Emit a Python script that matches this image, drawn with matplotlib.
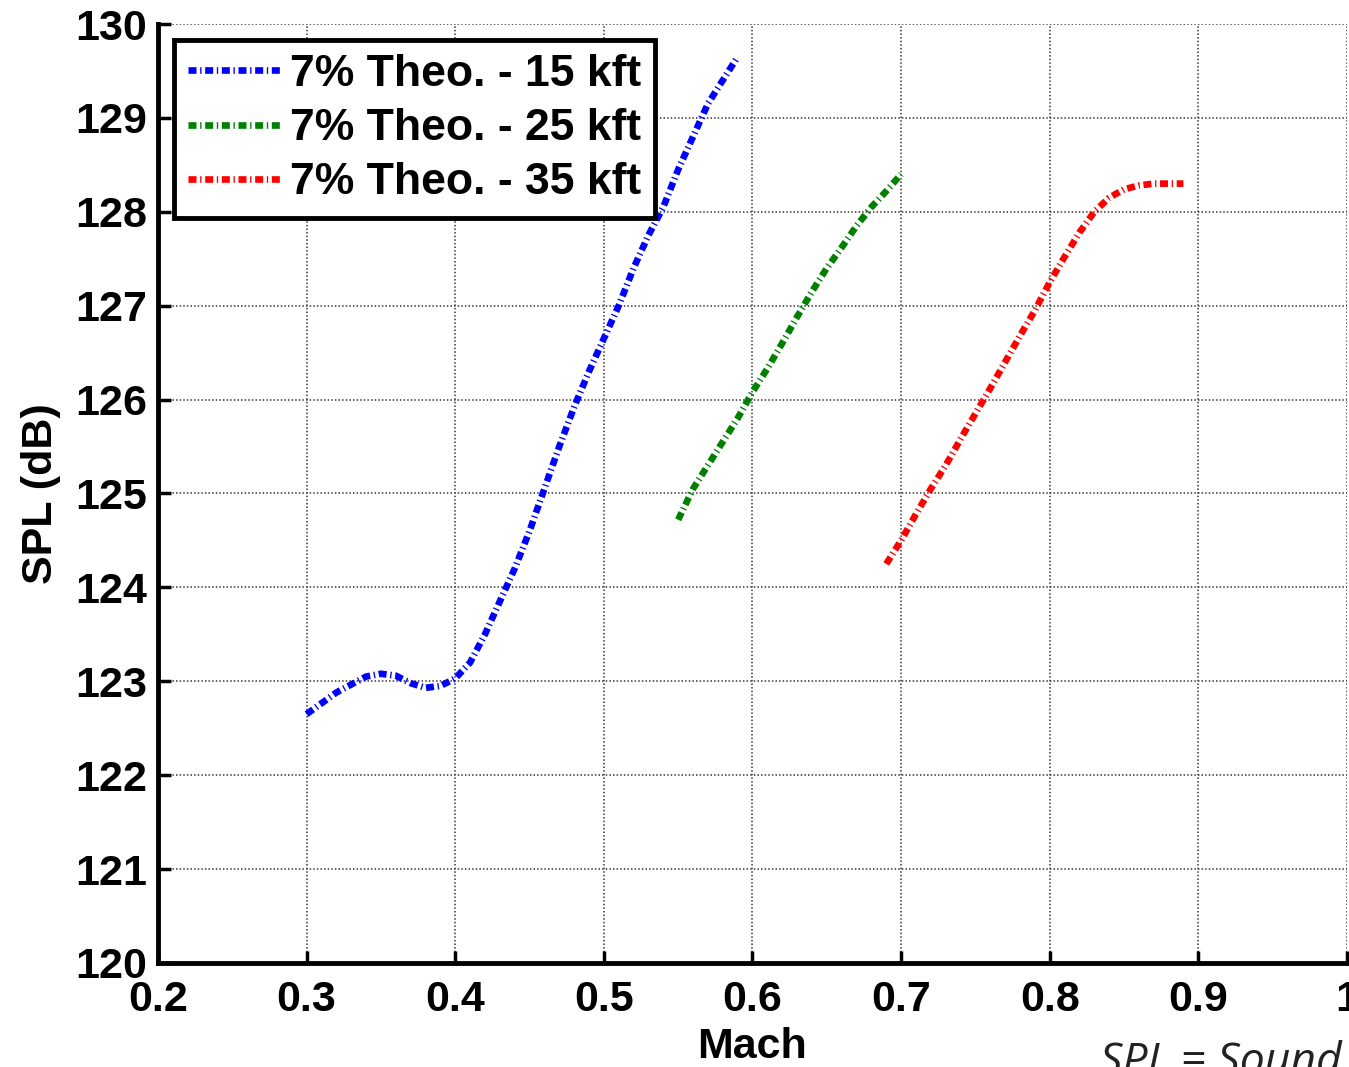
import matplotlib.pyplot as plt
from matplotlib.ticker import FuncFormatter

# Mach / SPL
mach_15 = [0.30, 0.32, 0.34, 0.35, 0.36, 0.37, 0.38, 0.39, 0.40, 0.41, 0.42, 0.43, 0.44, 0.45,
           0.46, 0.47, 0.48, 0.49, 0.50, 0.51, 0.52, 0.53, 0.54, 0.55, 0.56, 0.57, 0.58, 0.59]
spl_15 = [122.65, 122.88, 123.05, 123.08, 123.06, 122.98, 122.93, 122.95, 123.03, 123.2, 123.5,
          123.85, 124.2, 124.6, 125.05, 125.5, 125.92, 126.3, 126.65, 127.0, 127.4, 127.75,
          128.05, 128.45, 128.8, 129.15, 129.4, 129.65]

mach_25 = [0.55, 0.56, 0.57, 0.58, 0.59, 0.60, 0.61, 0.62, 0.63, 0.64, 0.65, 0.66, 0.67, 0.68, 0.69, 0.70]
spl_25 = [124.72, 125.05, 125.3, 125.55, 125.8, 126.08, 126.33, 126.6, 126.88, 127.15, 127.4,
          127.62, 127.85, 128.05, 128.22, 128.4]

mach_35 = [0.69, 0.70, 0.71, 0.72, 0.73, 0.74, 0.75, 0.76, 0.77, 0.78, 0.79, 0.80, 0.81, 0.82,
           0.83, 0.84, 0.85, 0.86, 0.87, 0.88, 0.89]
spl_35 = [124.25, 124.5, 124.78, 125.05, 125.3, 125.58, 125.85, 126.12, 126.4, 126.68, 126.95,
          127.25, 127.52, 127.78, 128.0, 128.15, 128.24, 128.28, 128.3, 128.3, 128.3]

labels = ['7% Theo. - 15 kft', '7% Theo. - 25 kft', '7% Theo. - 35 kft']
colors = ['#0000ff', '#008000', '#ff0000']

plt.rcParams['font.family'] = ['Liberation Sans', 'DejaVu Sans']
plt.rcParams['font.weight'] = 'bold'

fig = plt.figure(figsize=(13.49, 10.67), dpi=100)
ax = fig.add_axes([0.1171, 0.0975, 0.8814, 0.880])

dash = (0, (1.2, 0.55, 0.2, 0.55))
for xs, ys, c, lab in zip([mach_15, mach_25, mach_35], [spl_15, spl_25, spl_35], colors, labels):
    ax.plot(xs, ys, color=c, linewidth=4.8, linestyle=dash, label=lab, zorder=3)

ax.set_xlim(0.2, 1.0)
ax.set_ylim(120, 130)
ax.set_xticks([0.2, 0.3, 0.4, 0.5, 0.6, 0.7, 0.8, 0.9, 1.0])
ax.set_yticks(range(120, 131))
ax.xaxis.set_major_formatter(FuncFormatter(lambda v, p: '%g' % v))

ax.grid(True, color='0.3', linestyle=(0, (0.8, 1.2)), linewidth=1.3)
for s in ['top', 'right']:
    ax.spines[s].set_visible(False)
for s in ['left', 'bottom']:
    ax.spines[s].set_linewidth(3.5)
ax.tick_params(direction='in', length=9, width=2.5, labelsize=31, pad=8)
ax.tick_params(axis='x', pad=12)

ax.set_xlabel('Mach', fontsize=31, fontweight='bold', labelpad=5)
ax.set_ylabel('SPL (dB)', fontsize=31, fontweight='bold', labelpad=10)

leg = ax.legend(loc='upper left', fontsize=32, handlelength=2.1, handletextpad=0.2,
                labelspacing=0.3, borderpad=0.32, borderaxespad=0.35, fancybox=False,
                framealpha=1, edgecolor='black')
leg.get_frame().set_linewidth(3.5)

fig.text(1100 / 1349, 1 - 1040 / 1067, 'SPL = Sound Pressure Level', fontsize=32,
         fontstyle='italic', fontweight='normal', color='#222222', family='Open Sans',
         va='top', ha='left')

fig.savefig('out.png', dpi=100)
